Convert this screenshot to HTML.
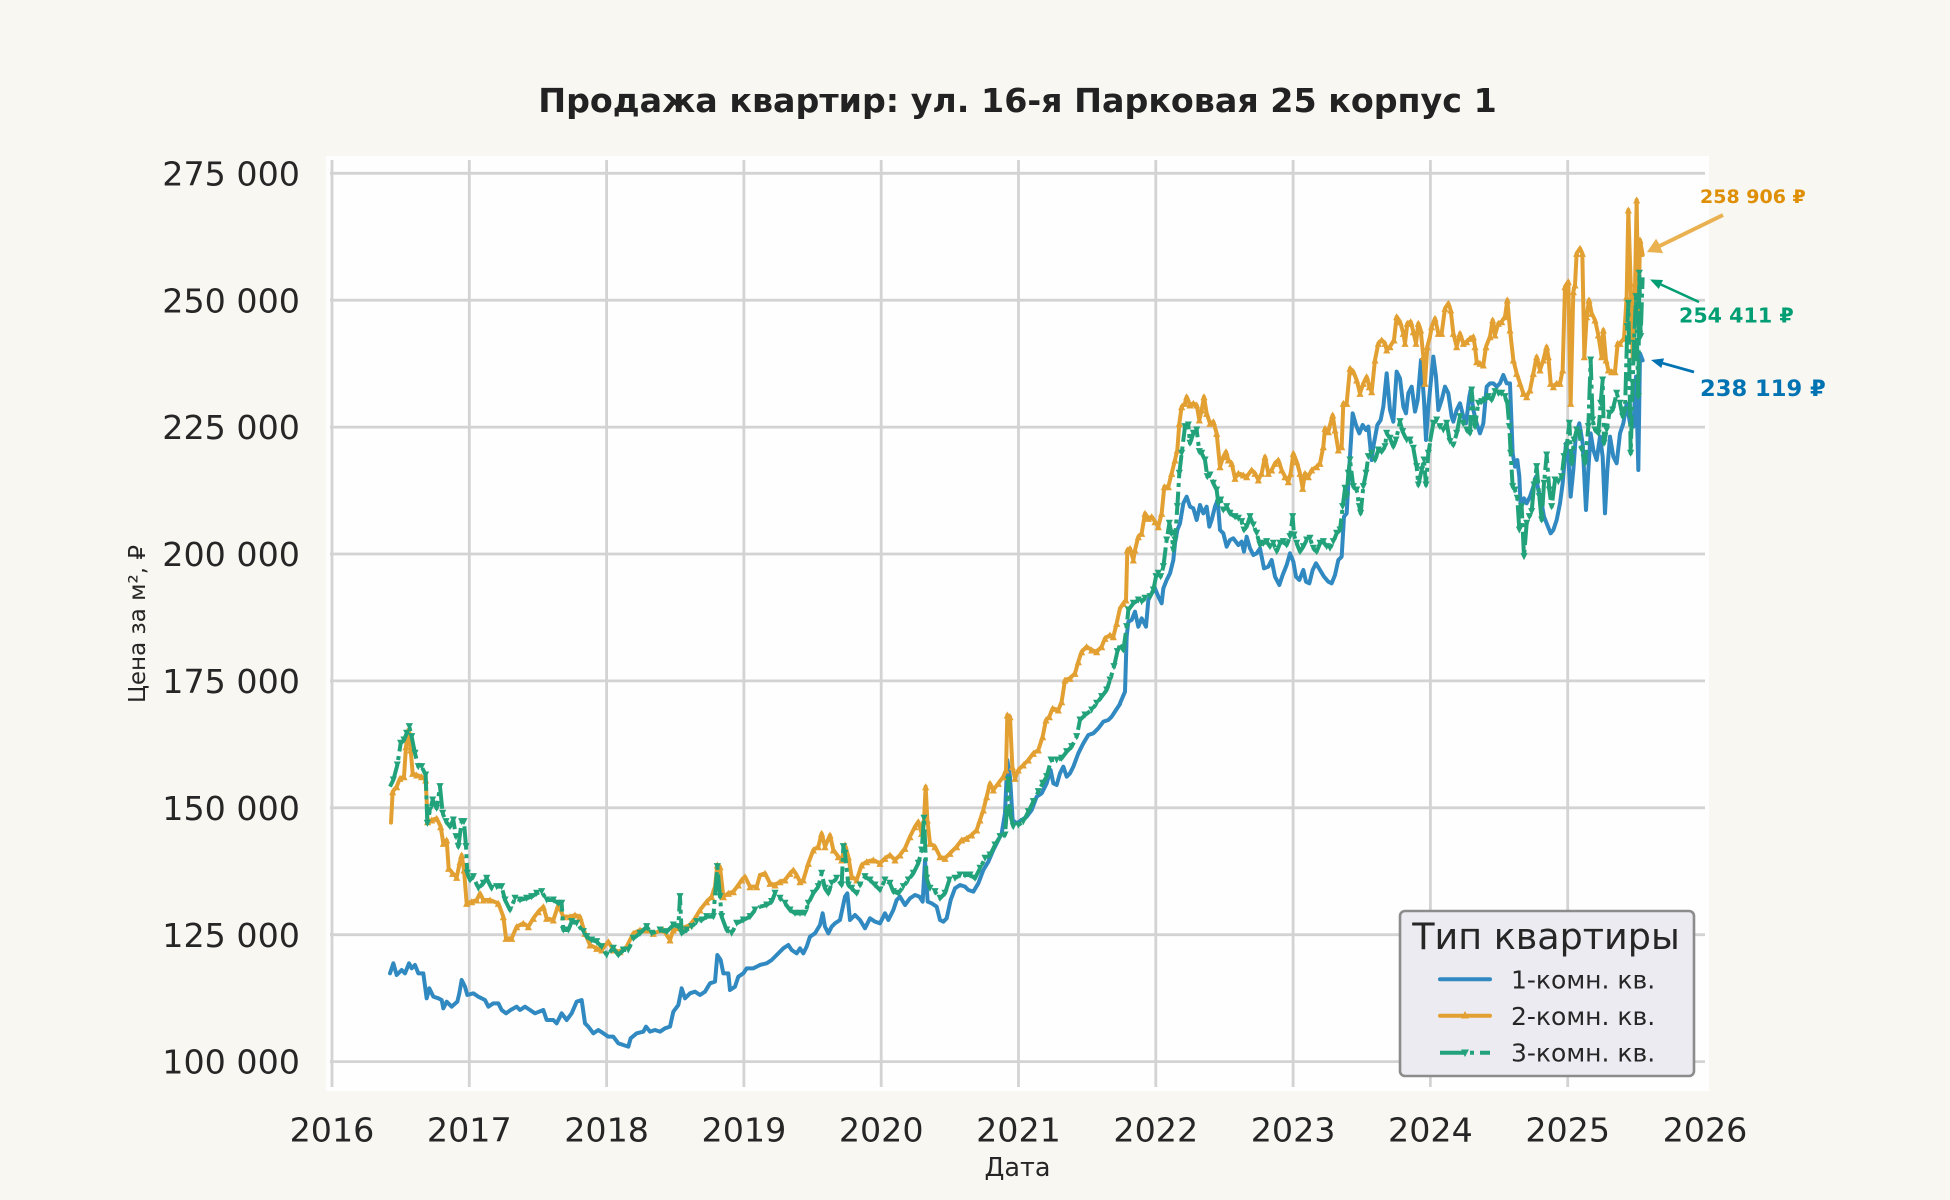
<!DOCTYPE html>
<html><head><meta charset="utf-8"><style>
html,body{margin:0;padding:0;background:#f8f7f2;}
svg{display:block;}
text{font-family:"DejaVu Sans","Liberation Sans",sans-serif;}
</style></head><body>
<svg width="1950" height="1200" viewBox="0 0 1950 1200" xmlns="http://www.w3.org/2000/svg">
<defs>
<marker id="mo" viewBox="0 0 10 10" refX="5" refY="5" markerWidth="1.8" markerHeight="1.8" markerUnits="strokeWidth"><path d="M5,0 L10,10 L0,10 z" fill="#e3a032"/></marker>
<marker id="mg" viewBox="0 0 10 10" refX="5" refY="5" markerWidth="1.8" markerHeight="1.8" markerUnits="strokeWidth"><path d="M0,0 L10,0 L5,10 z" fill="#22a27a"/></marker>
</defs>
<rect x="0" y="0" width="1950" height="1200" fill="#f8f7f2"/>
<text x="1017.5" y="112" font-size="33.3" font-weight="bold" text-anchor="middle" fill="#222">Продажа квартир: ул. 16-я Парковая 25 корпус 1</text>
<rect x="326" y="156" width="1383" height="935" fill="#fefefe"/>
<g stroke="#d3d3d3" stroke-width="2.8">
<line x1="330" y1="173.3" x2="1705" y2="173.3"/>
<line x1="330" y1="300.2" x2="1705" y2="300.2"/>
<line x1="330" y1="427.1" x2="1705" y2="427.1"/>
<line x1="330" y1="554" x2="1705" y2="554"/>
<line x1="330" y1="680.9" x2="1705" y2="680.9"/>
<line x1="330" y1="807.8" x2="1705" y2="807.8"/>
<line x1="330" y1="934.7" x2="1705" y2="934.7"/>
<line x1="330" y1="1061.6" x2="1705" y2="1061.6"/>
<line x1="332" y1="160" x2="332" y2="1087"/>
<line x1="469.3" y1="160" x2="469.3" y2="1087"/>
<line x1="606.6" y1="160" x2="606.6" y2="1087"/>
<line x1="743.9" y1="160" x2="743.9" y2="1087"/>
<line x1="881.2" y1="160" x2="881.2" y2="1087"/>
<line x1="1018.5" y1="160" x2="1018.5" y2="1087"/>
<line x1="1155.8" y1="160" x2="1155.8" y2="1087"/>
<line x1="1293.1" y1="160" x2="1293.1" y2="1087"/>
<line x1="1430.4" y1="160" x2="1430.4" y2="1087"/>
<line x1="1567.7" y1="160" x2="1567.7" y2="1087"/>
</g>
<g font-size="33.3" fill="#262626" text-anchor="end">
<text x="300" y="185.4">275 000</text>
<text x="300" y="312.3">250 000</text>
<text x="300" y="439.2">225 000</text>
<text x="300" y="566.1">200 000</text>
<text x="300" y="693">175 000</text>
<text x="300" y="819.9">150 000</text>
<text x="300" y="946.8">125 000</text>
<text x="300" y="1073.7">100 000</text>
</g>
<g font-size="33.3" fill="#262626" text-anchor="middle">
<text x="332" y="1141.5">2016</text>
<text x="469.3" y="1141.5">2017</text>
<text x="606.6" y="1141.5">2018</text>
<text x="743.9" y="1141.5">2019</text>
<text x="881.2" y="1141.5">2020</text>
<text x="1018.5" y="1141.5">2021</text>
<text x="1155.8" y="1141.5">2022</text>
<text x="1293.1" y="1141.5">2023</text>
<text x="1430.4" y="1141.5">2024</text>
<text x="1567.7" y="1141.5">2025</text>
<text x="1705" y="1141.5">2026</text>
</g>
<text x="1017.5" y="1176" font-size="25.5" fill="#262626" text-anchor="middle">Дата</text>
<text transform="translate(145,624) rotate(-90)" font-size="23" fill="#262626" text-anchor="middle">Цена за м², ₽</text>

<!-- BLUE -->
<g fill="none" stroke="#3089c0" stroke-width="12" stroke-linejoin="round" stroke-linecap="round">
<polyline transform="translate(380,640) scale(0.33333)" points="30,1000 40,970 50,1005 65,990 75,1000 87,970 95,985 105,975 115,1000 130,1000 140,1075 148,1045 160,1070 175,1075 185,1080 190,1105 200,1085 215,1100 232,1085 238,1060 245,1020 255,1040 262,1065 280,1060 295,1070 315,1080 325,1100 340,1090 355,1090 365,1110 378,1120 392,1110 410,1100 420,1110 435,1100 450,1110 465,1120 490,1110 500,1140 520,1140 530,1150 545,1120 560,1140 575,1120 590,1085 605,1080 615,1150 625,1160 640,1180 655,1170 670,1180 685,1190 700,1190 715,1210 730,1215 745,1220 752,1195 770,1180 790,1175 798,1160 810,1175 825,1170 840,1175 855,1165 870,1160 880,1115 895,1095 905,1045 915,1075 930,1060 945,1055 960,1065 975,1055 990,1030 1005,1025 1012,945 1022,960 1030,1000 1045,1000 1050,1050 1065,1040 1075,1010 1090,1000 1100,985 1120,985 1140,975"/>
<polyline transform="translate(760,480) scale(0.33333)" points="0,1455 20,1450 35,1440 50,1425 70,1405 85,1395 95,1410 110,1420 120,1405 130,1420 140,1400 150,1370 165,1360 180,1335 188,1300 195,1340 205,1360 215,1340 225,1330 240,1320 255,1250 262,1240 270,1320 285,1305 300,1320 315,1345 330,1315 345,1325 360,1330 375,1300 385,1320 400,1290 410,1260 420,1250 435,1275 450,1255 465,1245 478,1250 488,1265 495,1140 503,1265 515,1270 530,1280 540,1320 550,1325 560,1315 572,1260 585,1225 600,1215 615,1220 625,1230 640,1235 655,1210 670,1170 685,1145 700,1110 715,1080 725,1060 735,1000 742,840 750,890 758,1020 770,1030 785,1020 800,1010 815,990 830,950 845,940 860,910 872,870 880,910 890,915 900,880 910,860 920,890 930,880 940,860 955,820 970,790 985,765 1000,760 1015,745 1030,725 1045,720 1055,710 1068,690 1080,672"/>
<polyline transform="translate(1120,240) scale(0.33333)" points="0,1390 15,1355 20,1190 25,1145 35,1140 45,1115 55,1160 65,1135 78,1160 85,1080 95,1060 105,1045 115,1070 125,1090 130,1045 140,1020 150,1000 160,960 165,910 172,870 180,850 190,790 200,770 210,800 220,805 230,840 240,795 250,820 260,800 268,860 275,840 285,800 293,780 300,870 310,880 320,920 330,900 340,895 355,915 365,905 372,935 380,890 390,925 400,945 410,940 420,925 432,985 445,980 455,960 465,1010 478,1035 488,1005 500,975 510,940 520,965 528,1010 538,1020 550,990 558,1025 568,1030 578,990 588,970 600,990 612,1010 625,1025 635,1030 645,1005 655,960 665,950 672,830 680,820 688,680 698,520 708,555 718,580 728,555 738,570 745,560 755,660 760,620 772,555 782,540 790,500 800,400 810,510 820,545 830,395 840,415 850,500 858,520 865,460 875,440 885,515 893,480 903,360 912,480 918,600 925,500 930,450"/>
<polyline transform="translate(1420,170) scale(0.33333)" points="30,660 40,560 48,620 55,720 65,690 75,650 85,670 95,740 100,755 110,720 120,700 130,740 138,760 148,680 152,660 160,720 170,760 180,790 190,760 200,650 210,640 220,640 230,650 240,640 250,615 260,640 270,640 278,850 285,890 292,870 298,920 302,1010 312,985 320,1000 330,980 340,950 348,920 355,960 365,1000 372,1040 380,1060 392,1090 400,1080 410,1050 420,1000 428,940 438,820 445,860 452,980 460,900 468,790 478,760 488,820 498,1020 505,900 512,790 520,840 530,870 540,800 548,860 555,1030 562,900 570,800 580,860 590,880 600,790 610,760 620,700 630,760 640,770 648,620 655,900 660,550 668,571"/>
</g>

<!-- ORANGE -->
<g fill="none" stroke="#e3a032" stroke-width="12" stroke-linejoin="round" stroke-linecap="round" marker-mid="url(#mo)">
<polyline transform="translate(380,640) scale(0.33333)" points="33,548 38,455 50,440 60,415 72,410 78,320 85,270 92,330 98,400 110,405 125,410 137,420 143,545 155,540 170,535 182,560 190,610 200,600 206,685 218,700 230,712 240,665 245,645 252,690 260,790 275,785 290,780 300,760 310,780 330,780 355,790 370,830 378,895 395,895 410,860 430,850 445,860 460,835 475,815 490,800 500,835 520,840 535,795 550,830 570,830 585,825 600,830 615,880 630,915 650,925 665,930 685,905 700,930 720,935 740,920 760,880 780,870 800,870 820,880 850,870 870,900 880,870 905,865 930,855 945,835 960,810 980,785 995,770 1005,740 1012,675 1020,680 1030,770 1045,760 1060,755 1075,735 1085,720 1095,710 1110,740 1130,740 1140,705"/>
<polyline transform="translate(760,480) scale(0.33333)" points="0,1185 15,1180 30,1210 45,1215 60,1205 75,1200 90,1180 100,1170 110,1185 120,1205 130,1200 145,1150 160,1110 175,1100 185,1060 195,1100 210,1065 220,1110 235,1130 245,1140 255,1095 265,1130 275,1190 290,1200 305,1155 320,1145 340,1140 360,1150 375,1135 390,1125 405,1140 420,1125 435,1105 450,1070 465,1040 475,1025 485,1060 492,1020 497,920 502,1020 510,1090 525,1100 540,1130 555,1135 570,1120 590,1100 605,1080 620,1075 635,1065 650,1050 660,1020 670,990 680,950 690,910 700,930 715,910 730,890 738,870 742,705 750,710 757,860 765,895 775,870 790,855 805,840 820,820 835,810 848,770 858,720 868,710 878,685 895,690 905,665 915,600 930,595 945,580 955,545 965,515 980,500 995,510 1010,515 1025,500 1035,475 1050,465 1060,470 1070,430 1080,385"/>
<polyline transform="translate(1120,240) scale(0.33333)" points="0,1105 10,1090 18,1080 22,930 30,925 40,960 45,930 55,890 65,880 75,820 85,835 95,830 105,845 115,860 125,820 133,740 145,740 155,700 165,660 172,630 178,550 185,500 195,490 200,470 210,495 220,490 230,495 238,540 245,510 252,470 260,520 270,550 280,545 290,580 300,680 310,650 318,635 325,660 335,670 345,715 355,700 370,705 380,710 395,690 405,700 415,720 425,700 435,650 445,700 455,690 465,670 475,660 485,690 495,710 505,725 512,700 520,640 530,665 540,700 548,745 555,700 565,710 575,690 590,680 600,670 610,620 615,565 625,575 638,525 645,570 655,630 665,620 670,490 680,490 690,385 700,395 710,420 720,460 730,430 740,410 748,440 755,455 765,360 775,310 785,300 795,310 800,330 810,320 822,300 830,230 840,245 850,280 855,310 862,250 872,245 880,275 888,310 895,250 902,270 910,350 915,430 922,320 930,290"/>
<polyline transform="translate(1420,170) scale(0.33333)" points="30,500 35,470 45,445 55,490 65,490 75,415 85,400 92,420 100,490 110,530 120,490 130,520 140,515 150,505 160,500 165,530 170,575 180,580 190,585 198,530 210,500 218,450 225,495 235,460 245,455 255,440 262,390 270,480 280,570 290,610 300,640 310,670 320,680 330,660 340,610 350,560 360,600 370,570 380,530 385,560 392,640 400,650 410,640 420,640 428,600 435,350 445,335 452,700 460,365 465,345 470,250 480,235 487,250 493,560 500,440 507,390 515,430 525,450 535,495 545,560 550,480 558,570 565,600 575,605 585,605 593,520 600,520 612,505 620,380 625,120 632,340 638,560 643,460 650,90 655,450 660,210 668,255"/>
</g>

<!-- GREEN -->
<g fill="none" stroke="#22a27a" stroke-width="12" stroke-linejoin="round" stroke-dasharray="70 14 12 14" marker-mid="url(#mg)">
<polyline transform="translate(380,640) scale(0.33333)" points="30,440 40,420 52,375 62,310 72,300 80,280 88,260 95,290 105,340 115,380 125,380 137,405 142,550 150,510 158,480 170,505 180,440 188,520 198,545 210,560 220,540 228,590 235,620 245,545 252,545 258,620 262,700 270,720 280,710 295,745 310,730 320,715 335,745 350,740 365,740 375,780 390,810 405,775 420,780 440,775 455,770 470,760 485,755 500,780 520,780 535,790 545,790 550,870 565,870 575,845 590,850 610,875 620,890 635,900 650,905 665,920 680,945 700,925 715,945 730,930 745,930 760,895 780,880 800,860 815,880 840,870 860,875 880,855 895,860 900,770 905,880 920,870 935,860 950,845 965,840 980,830 1000,830 1012,680 1020,770 1025,830 1040,870 1055,880 1070,850 1090,840 1110,830 1125,810 1140,800"/>
<polyline transform="translate(760,480) scale(0.33333)" points="0,1280 20,1275 35,1265 45,1240 60,1255 75,1270 90,1290 105,1300 120,1300 135,1300 145,1270 160,1240 175,1220 185,1180 195,1225 205,1240 215,1210 230,1195 245,1215 250,1100 255,1120 265,1215 275,1225 290,1240 300,1215 315,1190 330,1200 345,1215 360,1230 375,1200 390,1210 400,1235 415,1240 430,1220 445,1200 460,1180 475,1150 485,1110 492,1015 500,1195 510,1225 525,1235 540,1255 555,1240 568,1200 585,1195 600,1185 615,1185 630,1185 645,1195 660,1165 675,1135 690,1125 705,1095 720,1070 735,1065 740,1000 745,900 750,1000 760,1040 775,1035 790,1025 805,995 820,965 835,935 848,910 860,890 873,840 890,840 905,835 920,815 935,800 950,770 960,720 975,705 995,690 1010,670 1025,650 1040,630 1050,600 1062,560 1072,515 1080,495"/>
<polyline transform="translate(1120,240) scale(0.33333)" points="0,1215 10,1230 20,1160 25,1110 40,1090 55,1080 65,1085 75,1075 90,1070 100,1050 108,1010 115,1000 122,1010 130,980 140,900 148,850 155,880 160,930 165,900 172,800 178,700 185,640 195,560 205,555 210,610 220,580 230,570 238,635 245,640 255,660 262,710 270,705 280,730 290,750 295,790 302,780 310,810 320,800 330,820 345,830 355,835 365,845 372,870 380,860 390,830 400,855 410,880 420,915 430,910 440,905 450,920 460,910 470,935 480,910 490,905 500,915 510,890 518,830 522,885 530,910 540,935 550,920 560,900 570,895 580,925 590,935 600,910 610,905 620,920 630,925 640,905 650,880 660,870 668,800 675,745 680,770 685,700 690,660 700,740 710,750 718,800 722,820 730,740 738,700 745,650 755,640 765,660 775,630 785,635 795,620 800,580 810,595 820,620 828,600 840,545 848,575 860,600 870,600 880,625 890,680 895,735 905,690 912,660 918,735 925,640 930,610"/>
<polyline transform="translate(1420,170) scale(0.33333)" points="30,815 40,760 50,750 60,770 70,780 80,760 90,815 100,825 110,790 120,740 130,760 140,780 150,790 155,660 165,770 175,700 185,695 195,690 205,680 215,690 225,665 235,670 245,670 255,680 262,700 268,770 272,850 278,950 285,960 292,985 298,1080 305,1010 312,1160 320,1060 328,1040 335,1025 342,945 350,890 358,980 365,1050 372,940 380,855 388,960 395,1010 405,930 415,935 425,920 432,860 440,830 448,760 455,880 462,810 470,780 478,790 485,840 495,880 505,770 512,570 518,750 525,780 535,790 542,700 548,630 552,820 560,780 568,730 578,720 590,670 600,700 608,740 615,720 622,470 625,400 632,850 638,640 642,520 648,380 655,680 658,310 662,500 668,322"/>
</g>

<!-- Annotations -->
<polygon points="1722.1,213.2 1659.2,244 1656.1,238.7 1647,252 1663.1,253.1 1660.5,247.8 1723.9,216.8" fill="#e8a83e" fill-opacity="0.9"/>
<text x="1700" y="203" font-size="19" font-weight="bold" fill="#de8f05">258 906 ₽</text>
<line x1="1699" y1="302" x2="1660.9" y2="284.5" stroke="#029e73" stroke-width="2.6"/>
<polygon points="1650,279.5 1663,280 1658.8,289" fill="#029e73"/>
<text x="1679" y="322.5" font-size="20.6" font-weight="bold" fill="#029e73">254 411 ₽</text>
<line x1="1694" y1="372" x2="1662.6" y2="363.2" stroke="#0173b2" stroke-width="2.8"/>
<polygon points="1651,360 1664,358.4 1661.3,368" fill="#0173b2"/>
<text x="1700" y="396" font-size="22.6" font-weight="bold" fill="#0173b2">238 119 ₽</text>

<!-- Legend -->
<rect x="1400" y="911" width="294" height="165" rx="5" ry="5" fill="#ebebf1" stroke="#8c8c8c" stroke-width="2.6"/>
<text x="1546" y="949" font-size="36.5" fill="#262626" text-anchor="middle">Тип квартиры</text>
<line x1="1440" y1="979.3" x2="1490" y2="979.3" stroke="#3089c0" stroke-width="4" stroke-linecap="round"/>
<line x1="1440" y1="1015.7" x2="1490" y2="1015.7" stroke="#e3a032" stroke-width="4" stroke-linecap="round"/>
<path d="M1465,1011 L1469,1018.5 L1461,1018.5 z" fill="#e3a032"/>
<line x1="1440" y1="1052.7" x2="1490" y2="1052.7" stroke="#22a27a" stroke-width="4" stroke-dasharray="24 6 4 6"/>
<path d="M1461,1049.5 L1469,1049.5 L1465,1057 z" fill="#22a27a"/>
<g font-size="25" fill="#262626">
<text x="1511" y="988.3">1-комн. кв.</text>
<text x="1511" y="1025">2-комн. кв.</text>
<text x="1511" y="1061.7">3-комн. кв.</text>
</g>
</svg>
</body></html>
